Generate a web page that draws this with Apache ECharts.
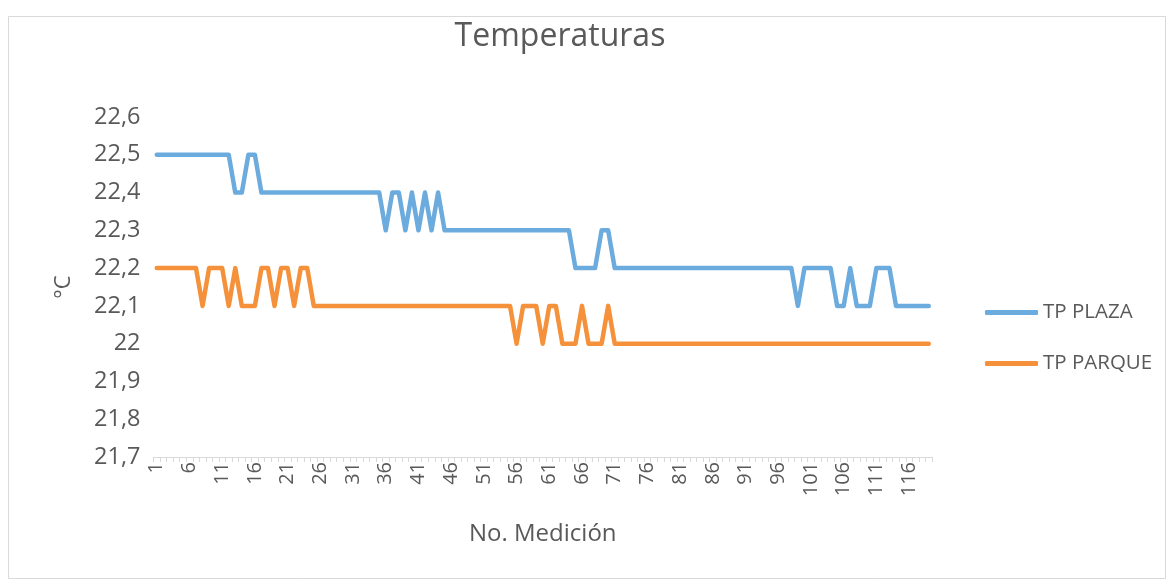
<!DOCTYPE html>
<html>
<head>
<meta charset="utf-8">
<script src="https://cdn.jsdelivr.net/npm/echarts@6/dist/echarts.min.js"></script>
<style>html,body{margin:0;padding:0;background:#fff}#c{width:1171px;height:583px}</style>
</head>
<body>
<div id="c"></div>
<script>
const categories = [];
for (let i = 1; i <= 119; i++) categories.push(String(i));

const tpPlaza = [
  22.5,22.5,22.5,22.5,22.5,22.5,22.5,22.5,22.5,22.5,
  22.5,22.5,22.4,22.4,22.5,22.5,22.4,22.4,22.4,22.4,
  22.4,22.4,22.4,22.4,22.4,22.4,22.4,22.4,22.4,22.4,
  22.4,22.4,22.4,22.4,22.4,22.3,22.4,22.4,22.3,22.4,
  22.3,22.4,22.3,22.4,22.3,22.3,22.3,22.3,22.3,22.3,
  22.3,22.3,22.3,22.3,22.3,22.3,22.3,22.3,22.3,22.3,
  22.3,22.3,22.3,22.3,22.2,22.2,22.2,22.2,22.3,22.3,
  22.2,22.2,22.2,22.2,22.2,22.2,22.2,22.2,22.2,22.2,
  22.2,22.2,22.2,22.2,22.2,22.2,22.2,22.2,22.2,22.2,
  22.2,22.2,22.2,22.2,22.2,22.2,22.2,22.2,22.1,22.2,
  22.2,22.2,22.2,22.2,22.1,22.1,22.2,22.1,22.1,22.1,
  22.2,22.2,22.2,22.1,22.1,22.1,22.1,22.1,22.1
];

const tpParque = [
  22.2,22.2,22.2,22.2,22.2,22.2,22.2,22.1,22.2,22.2,
  22.2,22.1,22.2,22.1,22.1,22.1,22.2,22.2,22.1,22.2,
  22.2,22.1,22.2,22.2,22.1,22.1,22.1,22.1,22.1,22.1,
  22.1,22.1,22.1,22.1,22.1,22.1,22.1,22.1,22.1,22.1,
  22.1,22.1,22.1,22.1,22.1,22.1,22.1,22.1,22.1,22.1,
  22.1,22.1,22.1,22.1,22.1,22.0,22.1,22.1,22.1,22.0,
  22.1,22.1,22.0,22.0,22.0,22.1,22.0,22.0,22.0,22.1,
  22.0,22.0,22.0,22.0,22.0,22.0,22.0,22.0,22.0,22.0,
  22.0,22.0,22.0,22.0,22.0,22.0,22.0,22.0,22.0,22.0,
  22.0,22.0,22.0,22.0,22.0,22.0,22.0,22.0,22.0,22.0,
  22.0,22.0,22.0,22.0,22.0,22.0,22.0,22.0,22.0,22.0,
  22.0,22.0,22.0,22.0,22.0,22.0,22.0,22.0,22.0
];

const yMin = 21.7, yMax = 22.6, yStep = 0.1;
const FONT = 'Open Sans';
const TXT = '#595959';

const chart = echarts.init(document.getElementById('c'), null, {renderer: 'canvas'});
chart.setOption({
  backgroundColor: '#fff',
  animation: false,
  graphic: [{
    type: 'rect', silent: true,
    shape: {x: 8.5, y: 16.5, width: 1157, height: 562},
    style: {fill: 'none', stroke: '#d9d9d9', lineWidth: 1}
  }, {
    type: 'text', silent: true, x: 560, y: 37,
    style: {text: 'Temperaturas', fontFamily: FONT, fontSize: 32, fill: TXT,
            align: 'center', verticalAlign: 'middle'}
  }],
  legend: {
    orient: 'vertical', left: 980, top: 297, itemGap: 30,
    itemWidth: 53, itemHeight: 5, icon: 'roundRect',
    textStyle: {fontFamily: FONT, fontSize: 20.5, color: TXT},
    data: ['TP PLAZA', 'TP PARQUE']
  },
  grid: {left: 153.5, right: 239, top: 117, bottom: 126, containLabel: false},
  xAxis: {
    type: 'category', data: categories, boundaryGap: true,
    name: 'No. Medición', nameLocation: 'middle', nameGap: 65,
    nameTextStyle: {fontFamily: FONT, fontSize: 24, color: TXT},
    axisLine: {lineStyle: {color: '#d9d9d9', width: 1}},
    axisTick: {show: true, interval: 0, length: 5, lineStyle: {color: '#d9d9d9'}},
    axisLabel: {interval: 4, rotate: 90, margin: 5, fontFamily: FONT, fontSize: 20, color: TXT},
    splitLine: {show: false}
  },
  yAxis: {
    type: 'value', min: yMin, max: yMax, interval: yStep,
    name: '°C', nameLocation: 'middle', nameGap: 79, nameRotate: 90,
    nameTextStyle: {fontFamily: FONT, fontSize: 22, color: TXT},
    axisLine: {show: false}, axisTick: {show: false},
    splitLine: {show: false},
    axisLabel: {
      margin: 13, fontFamily: FONT, fontSize: 23.5, color: TXT,
      formatter: v => String(Math.round(v * 10) / 10).replace('.', ',')
    }
  },
  series: [
    {name: 'TP PLAZA', type: 'line', data: tpPlaza, symbol: 'none',
     itemStyle: {color: '#6CABDD'},
     lineStyle: {color: '#6CABDD', width: 4.5, cap: 'round', join: 'round'}},
    {name: 'TP PARQUE', type: 'line', data: tpParque, symbol: 'none',
     itemStyle: {color: '#F4913A'},
     lineStyle: {color: '#F4913A', width: 4.5, cap: 'round', join: 'round'}}
  ]
});
</script>
</body>
</html>
